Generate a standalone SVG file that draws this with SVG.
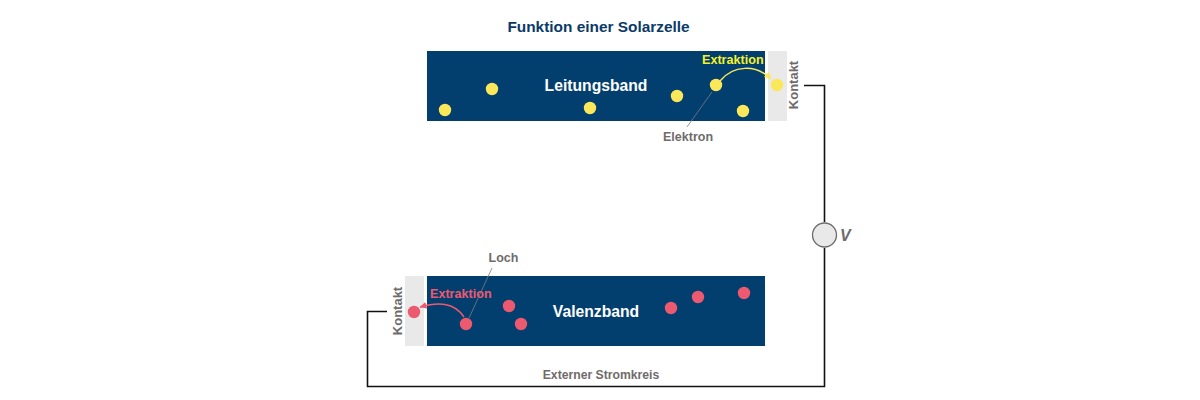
<svg xmlns="http://www.w3.org/2000/svg" width="1200" height="400" viewBox="0 0 1200 400">
<style>
text{font-family:"Liberation Sans",Arial,sans-serif;font-weight:bold}
.band{fill:#023e6e}
.contact{fill:#e9e9e9}
.g{fill:#6f6b6b;font-size:12.500px}
.k{fill:#6f6b6b;font-size:13px;text-anchor:middle}
.w{fill:#fff;font-size:15.700px;text-anchor:middle}
.e{fill:#fbe85a}
.h{fill:#ed5a70}
.wire{fill:none;stroke:#111;stroke-width:1.600}
.lead{fill:none;stroke:#7d7d7d;stroke-width:.8}
</style>
<defs>
<marker id="ay" markerWidth="8" markerHeight="8" refX="6.500" refY="3.500" orient="auto" markerUnits="userSpaceOnUse"><path d="M0 0L7 3.500L0 7z" fill="#fbe85a"/></marker>
<marker id="ar" markerWidth="8" markerHeight="8" refX="6.500" refY="3.500" orient="auto" markerUnits="userSpaceOnUse"><path d="M0 0L7 3.500L0 7z" fill="#ed5a70"/></marker>
</defs>
<text id="title" x="598.500" y="32" text-anchor="middle" fill="#0b3a68" font-size="15.400">Funktion einer Solarzelle</text>
<g id="leitungsband"><rect class="band" x="427" y="51" width="338" height="70"/><text class="w" x="596" y="91">Leitungsband</text></g>
<g id="valenzband"><rect class="band" x="427" y="276" width="338" height="70"/><text class="w" x="596" y="317">Valenzband</text></g>
<g id="kontakt-oben"><rect class="contact" x="768" y="51" width="19" height="70"/><text class="k" transform="translate(798,85) rotate(-90)">Kontakt</text></g>
<g id="kontakt-unten"><rect class="contact" x="405" y="276" width="19" height="70"/><text class="k" transform="translate(402,311) rotate(-90)">Kontakt</text></g>
<g id="connectors">
<path class="wire" d="M804 85.500H824.500V222M824.500 248V386.500H367.500V311.500H387"/>
<path class="lead" d="M712 92L687 127"/>
<path class="lead" d="M469 318L492 268"/>
<path d="M720 81C733 65 756 64 771 79" fill="none" stroke="#fbe85a" stroke-width="1.500" marker-end="url(#ay)"/>
<path d="M464 317C454 302 438 302 420 307" fill="none" stroke="#ed5a70" stroke-width="1.500" marker-end="url(#ar)"/>
</g>
<g id="elektronen" class="e">
<circle cx="445" cy="110" r="6.200"/><circle cx="492" cy="89" r="6.200"/><circle cx="590" cy="108" r="6.200"/><circle cx="677" cy="96" r="6.200"/><circle cx="716" cy="85" r="6.200"/><circle cx="743" cy="111" r="6.200"/><circle cx="777" cy="85" r="6.200"/>
</g>
<g id="loecher" class="h">
<circle cx="414" cy="312" r="6.200"/><circle cx="466" cy="324" r="6.200"/><circle cx="509" cy="306" r="6.200"/><circle cx="521" cy="324" r="6.200"/><circle cx="671" cy="308" r="6.200"/><circle cx="698" cy="297" r="6.200"/><circle cx="744" cy="293" r="6.200"/>
</g>
<g id="labels">
<text x="702" y="64" fill="#f5f02c" font-size="12.600">Extraktion</text>
<text x="430" y="298" fill="#ed5a70" font-size="12.600">Extraktion</text>
<text class="g" x="663" y="141">Elektron</text>
<text class="g" x="488.500" y="262">Loch</text>
<text class="g" x="601" y="379" text-anchor="middle" style="font-size:12.200px">Externer Stromkreis</text>
</g>
<g id="voltmeter"><circle cx="824.500" cy="235" r="12" fill="#e9e9e9" stroke="#6f6b6b" stroke-width="1.300"/><text x="840" y="241" fill="#6f6b6b" font-size="16" font-style="italic">V</text></g>
</svg>
